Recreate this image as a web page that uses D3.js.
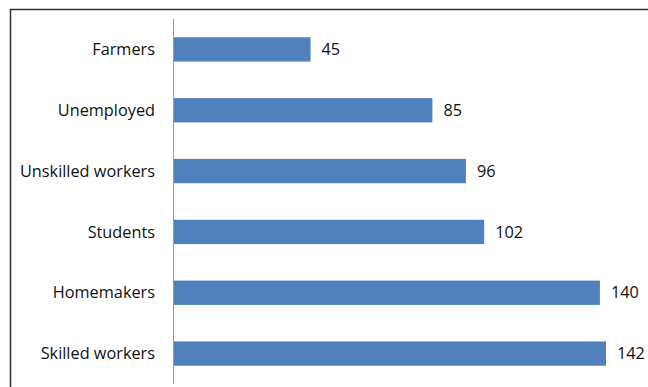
<!DOCTYPE html>
<html><head><meta charset="utf-8">
<script src="https://cdn.jsdelivr.net/npm/d3@7"></script>
<style>body{margin:0;background:#fff}svg{display:block}</style>
</head><body>
<svg id="c" width="648" height="387"></svg>
<script>
const categories = ["Farmers","Unemployed","Unskilled workers","Students","Homemakers","Skilled workers"];
const values = [45,85,96,102,140,142];

const svg = d3.select("#c");
const W = 648, H = 387;
svg.append("rect").attr("width",W).attr("height",H).attr("fill","#fff");
// outer border (extends past right/bottom)
svg.append("path").attr("d","M10.5,"+(H+2)+"V9.5H"+(W+2)).attr("fill","none").attr("stroke","#333").attr("stroke-width",1.5);

const x0 = 173.5;
const x = d3.scaleLinear().domain([0,142]).range([x0,606]);
const y = d3.scaleBand().domain(categories).range([19,384]).paddingInner(0.6).paddingOuter(0.3);

svg.append("line").attr("x1",x0).attr("x2",x0).attr("y1",19).attr("y2",384).attr("stroke","#999").attr("stroke-width",1);

svg.selectAll("rect.bar").data(values).join("rect").attr("class","bar")
  .attr("x",x0+0.5).attr("y",(d,i)=>y(categories[i]))
  .attr("width",d=>x(d)-x0-0.5).attr("height",y.bandwidth())
  .attr("fill","#4F81BD");

const font = "'Open Sans', sans-serif";
svg.selectAll("text.cat").data(categories).join("text").attr("class","cat")
  .attr("x",155).attr("y",d=>y(d)+y.bandwidth()/2).attr("dy","0.35em")
  .attr("text-anchor","end").attr("font-family",font).attr("font-size",16.3).attr("fill","#111").text(d=>d);

svg.selectAll("text.val").data(values).join("text").attr("class","val")
  .attr("x",d=>x(d)+11).attr("y",(d,i)=>y(categories[i])+y.bandwidth()/2).attr("dy","0.35em")
  .attr("font-family",font).attr("font-size",16.3).attr("fill","#111").text(d=>d);
</script>
</body></html>
